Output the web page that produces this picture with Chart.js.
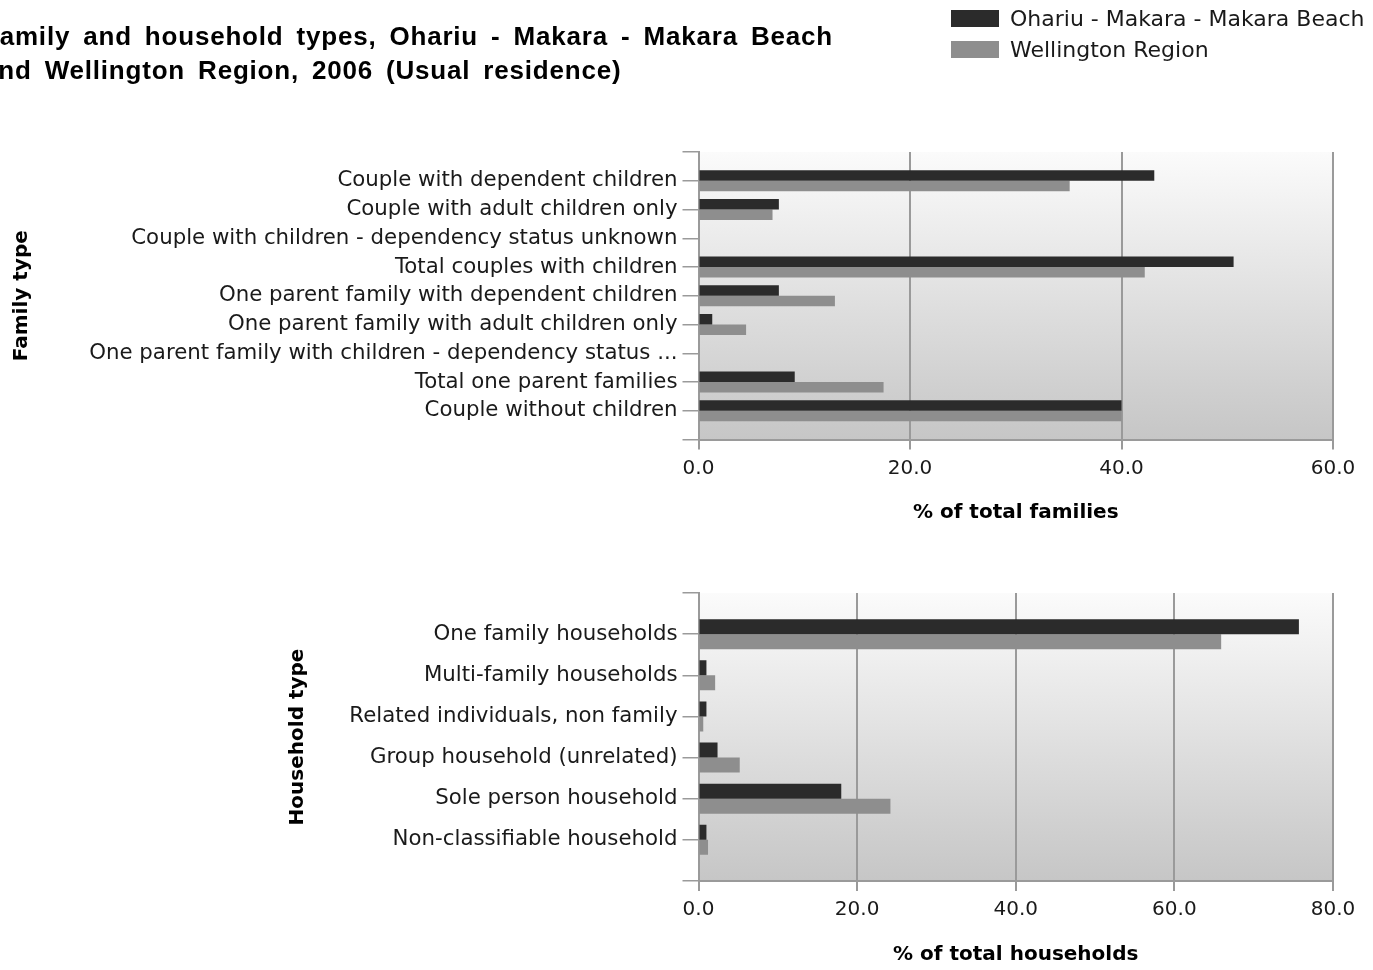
<!DOCTYPE html>
<html>
<head>
<meta charset="utf-8">
<script src="https://cdn.jsdelivr.net/npm/chart.js@4.4.0/dist/chart.umd.min.js"></script>
<style>
  body { margin: 0; background: #fff; width: 1373px; height: 970px; overflow: hidden; position: relative; }
  #title { position: absolute; left: -17px; top: 19px; font: bold 26px "Liberation Sans", Arial, sans-serif; line-height: 34px; letter-spacing: 0.8px; word-spacing: 5px; color: #000; white-space: nowrap; z-index: 2; }
  #legend { position: absolute; left: 951px; top: 3px; z-index: 2; }
  .item { height: 31px; display: flex; align-items: center; font: 22px "DejaVu Sans", sans-serif; color: #1a1a1a; white-space: nowrap; }
  .swatch { width: 48px; height: 17px; margin-right: 11px; }
  .box { position: absolute; left: 0; width: 1373px; }
</style>
</head>
<body>
<div id="title">Family and household types, Ohariu - Makara - Makara Beach<br>and Wellington Region, 2006 (Usual residence)</div>
<div id="legend"></div>
<div class="box" style="top:0;height:540px"><canvas id="familyChart"></canvas></div>
<div class="box" style="top:540px;height:430px"><canvas id="householdChart"></canvas></div>
<script>
const seriesNames = ['Ohariu - Makara - Makara Beach', 'Wellington Region'];
const seriesColors = ['#2b2b2b', '#8e8e8e'];

const familyTypes = [
    'Couple with dependent children',
    'Couple with adult children only',
    'Couple with children - dependency status unknown',
    'Total couples with children',
    'One parent family with dependent children',
    'One parent family with adult children only',
    'One parent family with children - dependency status ...',
    'Total one parent families',
    'Couple without children'
];
const familyOhariu = [43.1, 7.6, 0, 50.6, 7.6, 1.3, 0, 9.1, 40.0];
const familyWellington = [35.1, 7.0, 0, 42.2, 12.9, 4.5, 0, 17.5, 40.0];
const familyTicks = [0, 20, 40, 60];

const householdTypes = [
    'One family households',
    'Multi-family households',
    'Related individuals, non family',
    'Group household (unrelated)',
    'Sole person household',
    'Non-classifiable household'
];
const householdOhariu = [75.7, 1.0, 1.0, 2.4, 18.0, 1.0];
const householdWellington = [65.9, 2.1, 0.6, 5.2, 24.2, 1.2];
const householdTicks = [0, 20, 40, 60, 80];

// legend
const legend = document.getElementById('legend');
seriesNames.forEach((name, i) => {
    const row = document.createElement('div');
    row.className = 'item';
    row.innerHTML = '<span class="swatch" style="background:' + seriesColors[i] + '"></span>' + name;
    legend.appendChild(row);
});

Chart.defaults.font.family = '"DejaVu Sans", sans-serif';
Chart.defaults.color = '#1a1a1a';

const plotBackground = {
    id: 'plotBackground',
    beforeDraw(chart) {
        const {ctx, chartArea: a} = chart;
        const g = ctx.createLinearGradient(0, a.top, 0, a.bottom);
        g.addColorStop(0, '#fbfbfb');
        g.addColorStop(1, '#c6c6c6');
        ctx.save();
        ctx.fillStyle = g;
        ctx.fillRect(a.left, a.top, a.right - a.left, a.bottom - a.top);
        ctx.restore();
    }
};

// one blank slot above and below the categories
function pad(arr, blank) {
    return [blank].concat(arr, [blank]);
}

function makeChart(id, labels, a, b, ticks, xTitle, yTitle, padLeft, layoutPad, xHeight) {
    const ctx = document.getElementById(id).getContext('2d');
    return new Chart(ctx, {
        type: 'bar',
        data: {
            labels: pad(labels, ''),
            datasets: [
                { label: seriesNames[0], data: pad(a, null), backgroundColor: seriesColors[0] },
                { label: seriesNames[1], data: pad(b, null), backgroundColor: seriesColors[1] }
            ]
        },
        options: {
            indexAxis: 'y',
            responsive: true,
            maintainAspectRatio: false,
            animation: false,
            layout: { padding: layoutPad },
            datasets: { bar: { categoryPercentage: 0.73, barPercentage: 1.0 } },
            plugins: { legend: { display: false }, tooltip: { enabled: false } },
            scales: {
                y: {
                    offset: false,
                    afterFit: s => { s.width = 698.5 - padLeft; },
                    grid: { offset: false, drawOnChartArea: false, tickLength: 16, color: '#9a9a9a', lineWidth: 1.5 },
                    border: { color: '#9a9a9a', width: 2 },
                    ticks: { autoSkip: false, padding: 5, font: { size: 21.3 }, color: '#1a1a1a' },
                    title: { display: true, text: yTitle, font: { size: 20, weight: 'bold' }, color: '#000', padding: { top: 10, bottom: 0 } }
                },
                x: {
                    min: ticks[0],
                    max: ticks[ticks.length - 1],
                    afterBuildTicks: s => { s.ticks = ticks.map(v => ({ value: v })); },
                    afterFit: s => { s.height = xHeight; },
                    grid: { color: '#9a9a9a', lineWidth: 2, tickLength: 10 },
                    border: { color: '#9a9a9a', width: 2 },
                    ticks: { padding: 7, font: { size: 20 }, color: '#1a1a1a', callback: v => v.toFixed(1) },
                    title: { display: true, text: xTitle, font: { size: 20, weight: 'bold' }, color: '#000', padding: { top: 0, bottom: 2 } }
                }
            }
        },
        plugins: [plotBackground]
    });
}

makeChart('familyChart', familyTypes, familyOhariu, familyWellington, familyTicks,
    '% of total families', 'Family type', 0,
    { left: 0, right: 40, top: 152, bottom: 13.5 }, 87);
makeChart('householdChart', householdTypes, householdOhariu, householdWellington, householdTicks,
    '% of total households', 'Household type', 276,
    { left: 276, right: 40, top: 53, bottom: 1 }, 88);
</script>
</body>
</html>
